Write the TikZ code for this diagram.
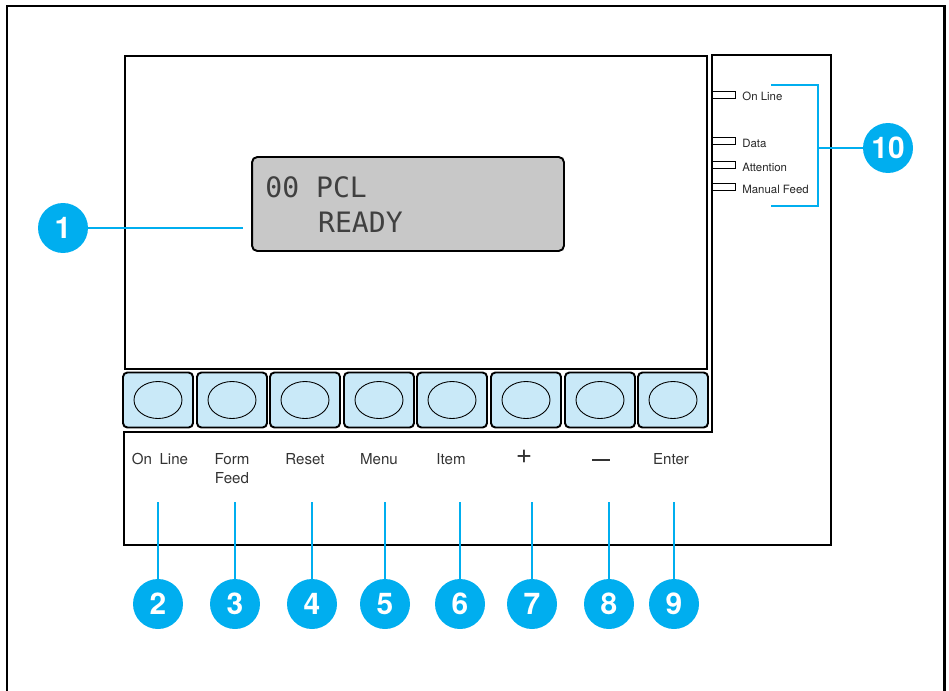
\documentclass[tikz,border=0pt]{standalone}
\usepackage{fontspec}
\setmainfont{TeX Gyre Heros}
\newfontfamily\lcdfont{DejaVu Sans Mono}
\usetikzlibrary{positioning}
\definecolor{callblue}{HTML}{00AEEF}
\definecolor{keyblue}{HTML}{C9E9F8}
\definecolor{lcdgray}{HTML}{C8C8C8}
\tikzset{
  panel/.style    = {draw, line width=1.1pt},
  key/.style      = {draw, rounded corners=2.5pt, line width=1.1pt, fill=keyblue,
                     minimum width=1.4cm, minimum height=1.1cm, inner sep=0pt,
                     path picture={\draw[line width=0.5pt] (path picture bounding box.center)
                                   ellipse [x radius=0.48cm, y radius=0.37cm];}},
  keylabel/.style = {align=center, font=\fontsize{8.6}{11}\selectfont, text=black!80, inner sep=0pt},
  lcd/.style      = {draw, rounded corners=3pt, line width=1.1pt, fill=lcdgray,
                     minimum width=6.24cm, minimum height=1.88cm},
  lcdtext/.style  = {font=\lcdfont\fontsize{16}{19}\selectfont, text=black!75, inner sep=0pt, anchor=base west},
  led/.style      = {draw, line width=0.8pt, minimum width=0.46cm, minimum height=0.14cm,
                     inner sep=0pt, anchor=west},
  ledlabel/.style = {font=\fontsize{6.5}{7}\selectfont, text=black!85, inner sep=0pt, anchor=west},
  callout/.style  = {circle, fill=callblue, text=white, minimum size=1cm, inner sep=0pt,
                     font=\fontsize{17}{17}\selectfont\bfseries},
  callline/.style = {draw=callblue, line width=1.2pt},
}
\begin{document}
\begin{tikzpicture}[x=0.02cm, y=-0.02cm]
  \useasboundingbox (0,0) rectangle (949,690);
  % outer frame, open at the bottom
  \draw[line width=1.7pt] (7,692) -- (7,6) -- (944,6) -- (944,692);

  % control panel
  \draw[panel] (125,56) rectangle (707,369);
  \draw[panel] (712,432) -- (712,55) -- (831,55) -- (831,545) -- (124,545) -- (124,432) -- cycle;

  % display
  \node[lcd] (lcd) at (408,204) {};
  \node[lcdtext] (row1) at (265,197) {00 PCL};
  \node[lcdtext] (row2) at (267,232) {\hphantom{00 }READY};

  % keys
  \node[key] (k1) at (158,400) {};
  \node[key] (k2) at (232,400) {};
  \node[key] (k3) at (305,400) {};
  \node[key] (k4) at (379,400) {};
  \node[key] (k5) at (452,400) {};
  \node[key] (k6) at (526,400) {};
  \node[key] (k7) at (600,400) {};
  \node[key] (k8) at (673,400) {};

  % key names
  \node[keylabel, anchor=north] (n1) at (160,453) {On\enspace Line};
  \node[keylabel, anchor=north] (n2) at (232,453) {Form\\Feed};
  \node[keylabel, anchor=north] (n3) at (305,453) {Reset};
  \node[keylabel, anchor=north] (n4) at (379,453) {Menu};
  \node[keylabel, anchor=north] (n5) at (451,453) {Item};
  \node[keylabel] (n6) at (524,457) {\fontsize{16}{16}\selectfont +};
  \node[keylabel] (n7) at (601,460) {\rule{0.36cm}{0.9pt}};
  \node[keylabel, anchor=north] (n8) at (671,453) {Enter};

  % lamps
  \node[led] (l1) at (712,95) {};
  \node[led] (l2) at (712,141) {};
  \node[led] (l3) at (712,165) {};
  \node[led] (l4) at (712,187) {};
  \node[ledlabel] (t1) at (742,96) {On Line};
  \node[ledlabel] (t2) at (742,143) {Data};
  \node[ledlabel] (t3) at (742,167) {Attention};
  \node[ledlabel] (t4) at (742,189) {Manual Feed};

  % callouts
  \node[callout] (c1) at (63,228) {1};
  \node[callout] (c2) at (158,604) {2};
  \node[callout] (c3) at (235,604) {3};
  \node[callout] (c4) at (312,604) {4};
  \node[callout] (c5) at (385,604) {5};
  \node[callout] (c6) at (460,604) {6};
  \node[callout] (c7) at (532,604) {7};
  \node[callout] (c8) at (609,604) {8};
  \node[callout] (c9) at (674,604) {9};
  \node[callout] (c10) at (888,148) {10};

  \coordinate (p1) at (243,228);
  \coordinate (p2) at (158,502);
  \coordinate (p3) at (235,502);
  \coordinate (p4) at (312,502);
  \coordinate (p5) at (385,502);
  \coordinate (p6) at (460,502);
  \coordinate (p7) at (532,502);
  \coordinate (p8) at (609,502);
  \coordinate (p9) at (674,502);
  \coordinate (b10t) at (771,85);
  \coordinate (b10m) at (818,148);
  \coordinate (b10b) at (771,206);

  \draw[callline] (c1) -- (p1);
  \draw[callline] (p2) -- (c2);
  \draw[callline] (p3) -- (c3);
  \draw[callline] (p4) -- (c4);
  \draw[callline] (p5) -- (c5);
  \draw[callline] (p6) -- (c6);
  \draw[callline] (p7) -- (c7);
  \draw[callline] (p8) -- (c8);
  \draw[callline] (p9) -- (c9);
  \draw[callline] (b10t) -| (b10m) |- (b10b);
  \draw[callline] (b10m) -- (c10);
\end{tikzpicture}
\end{document}
